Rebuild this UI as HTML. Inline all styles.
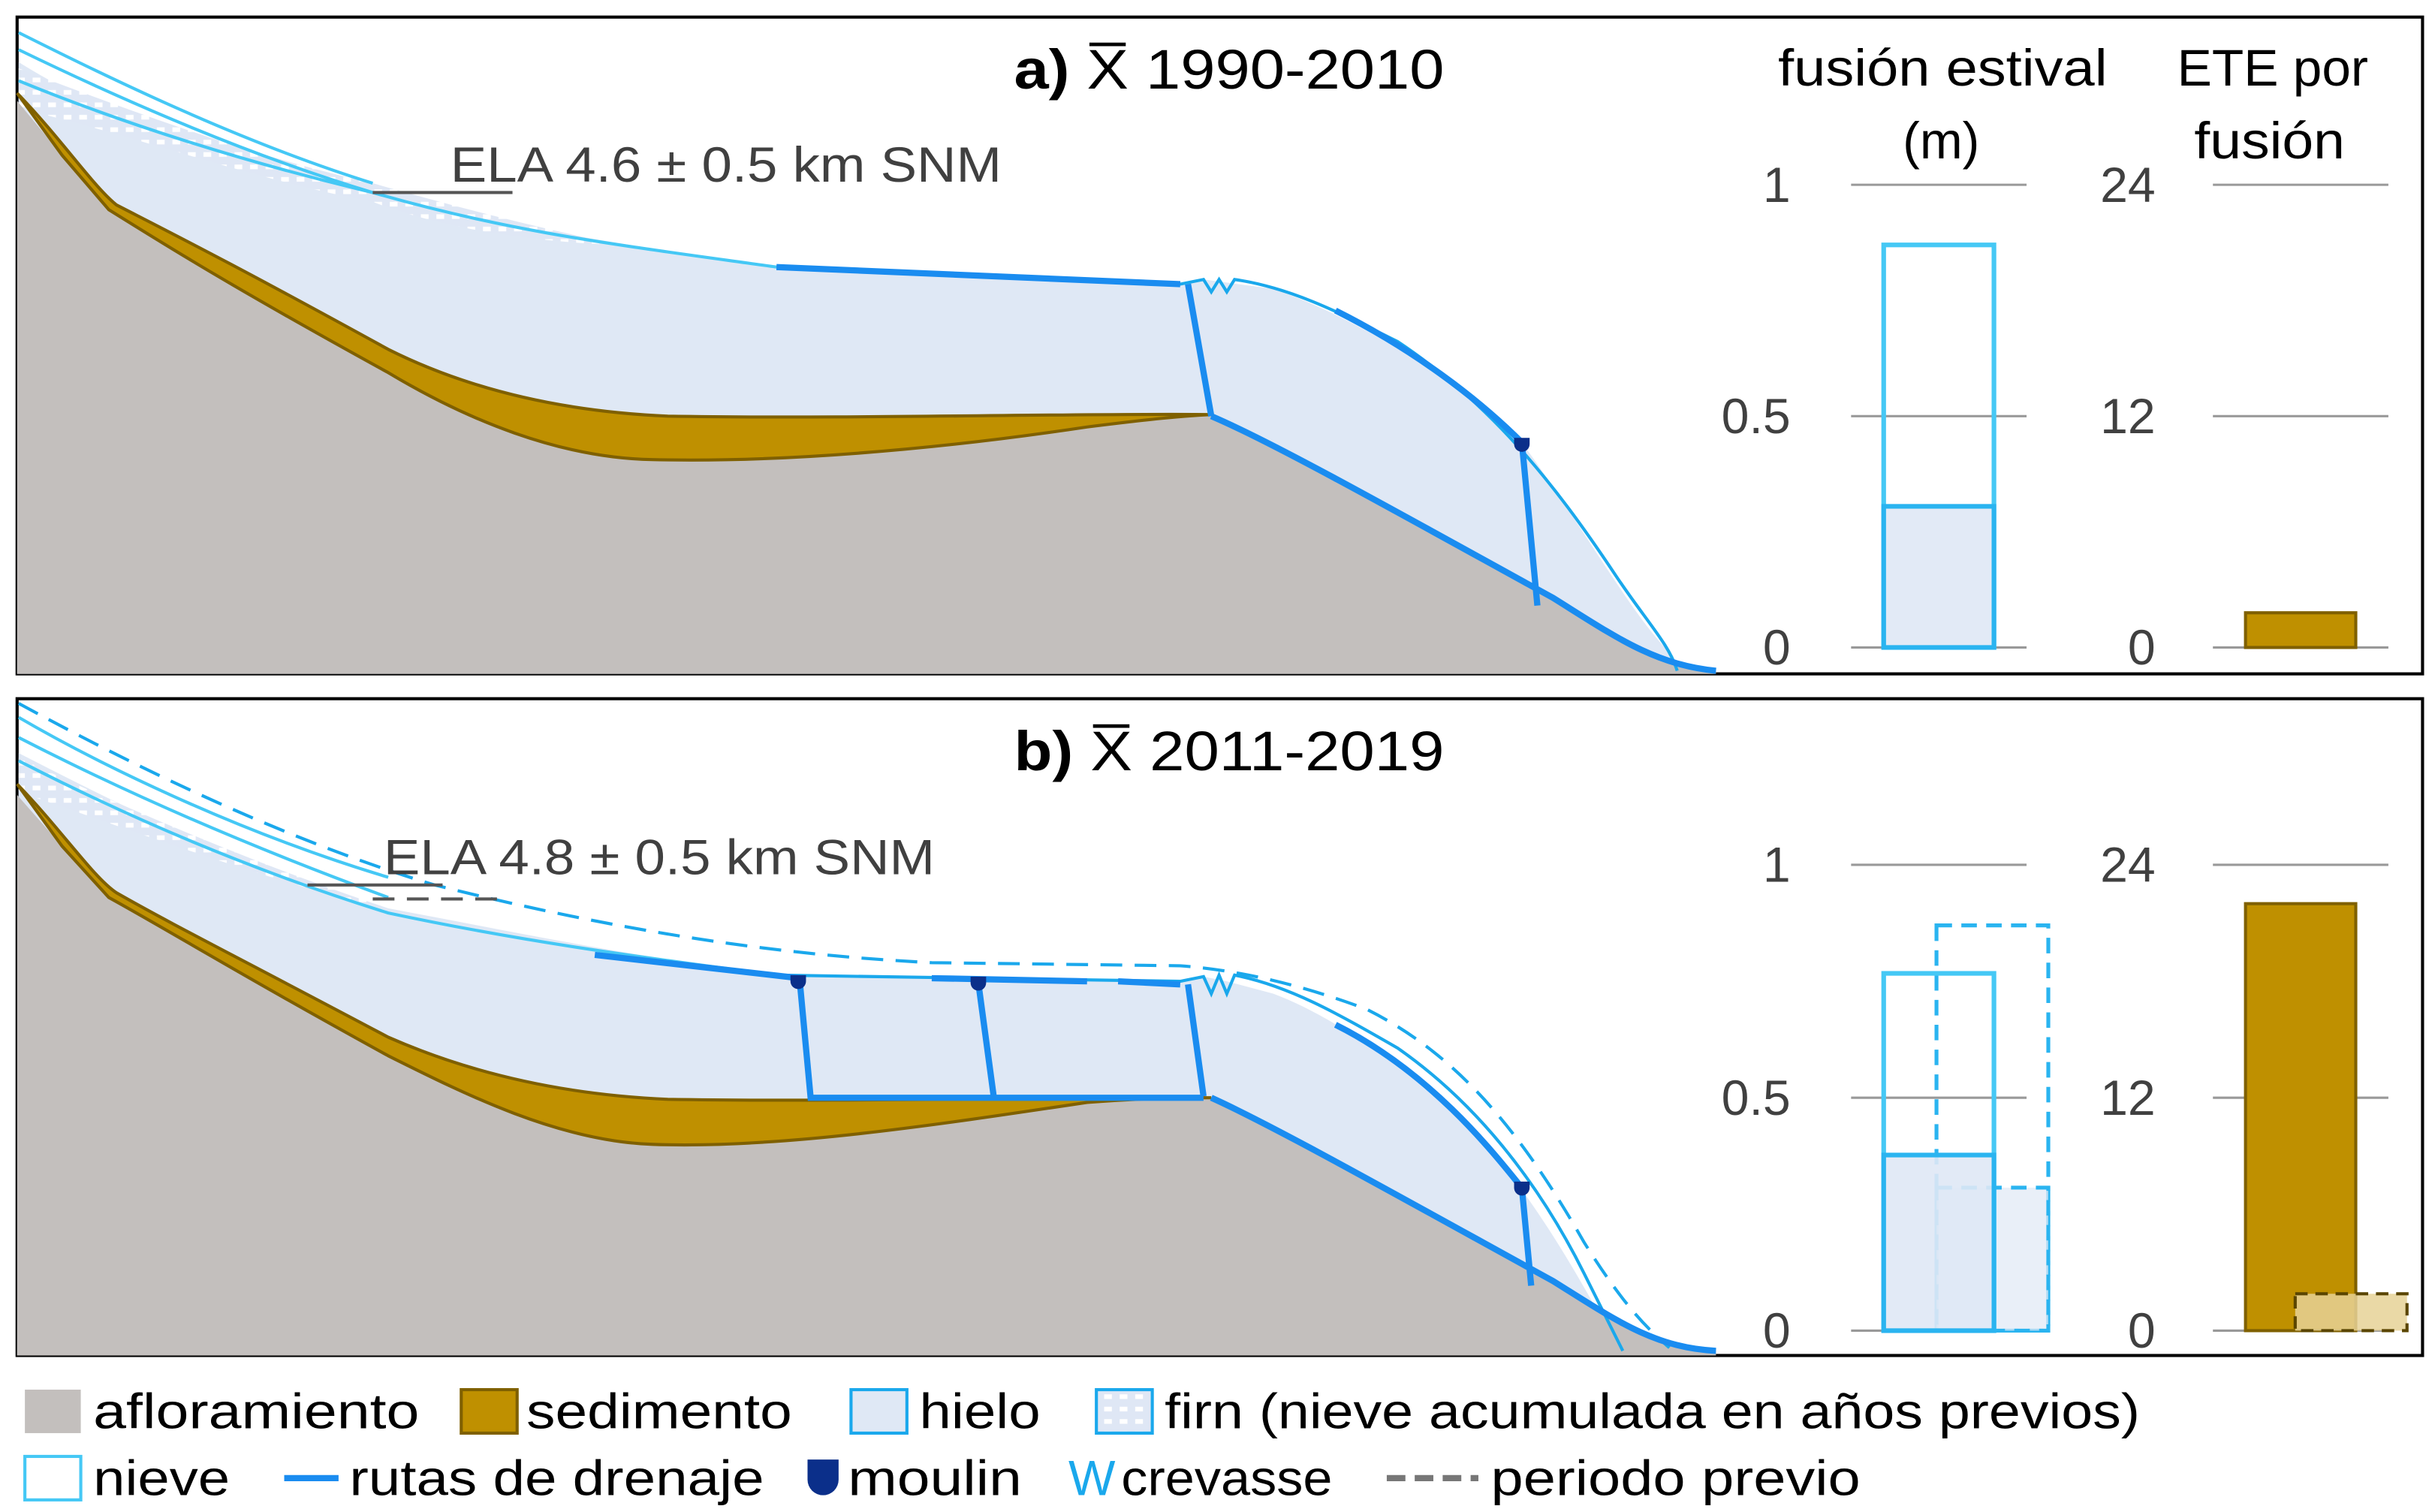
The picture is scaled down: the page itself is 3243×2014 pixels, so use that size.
<!DOCTYPE html>
<html><head><meta charset="utf-8"><style>
html,body{margin:0;padding:0;background:#fff;}
svg{display:block;}
text{font-family:"Liberation Sans",sans-serif;}
</style></head><body>
<svg id="fig" width="3243" height="2014" viewBox="0 0 1568 973.8" xmlns="http://www.w3.org/2000/svg">
<defs>
<pattern id="firn" width="10" height="8" patternUnits="userSpaceOnUse">
<rect width="10" height="8" fill="#dfe7f5"/><rect x="1" y="2" width="5" height="3" fill="#fff"/>
</pattern>
</defs>

<!-- Panel a -->
<g>
<rect x="11" y="11" width="1549" height="423" fill="#fff" stroke="#000" stroke-width="2"/>
<path d="M12,40 C60,70 150,110 250,130 C330,145 400,158 500,172 L760,183 L775,180 L790,182 L820,186 C860,200 920,230 980,285 C1020,340 1050,395 1075,420 L1080,432 L1105,434 L11,434 Z" fill="#dfe8f5"/>
<path d="M12,44 C80,70 160,100 240,118 C300,135 340,145 400,158 C330,155 280,145 240,130 C160,115 80,85 12,70 Z" fill="url(#firn)"/>
<path d="M11,65 L40,100 L70,135 C110,160 150,185 250,240 C300,270 360,295 420,296 C500,298 600,290 700,275 C740,270 770,268 780,268 C820,285 900,330 1000,385 C1040,410 1065,428 1105,432 L1105,434 L11,434 Z" fill="#c3bfbd"/>
<path d="M11,60 C40,90 60,120 75,132 C110,150 150,170 250,225 C300,250 360,265 430,268 C550,270 700,266 780,267 C760,268 740,270 700,275 C600,290 500,298 420,296 C360,295 300,270 250,240 C150,185 110,160 70,135 L40,100 Z" fill="#bf9000" stroke="#7f6000" stroke-width="2"/>
<path d="M12,21 C60,45 150,90 240,118 M12,32 C80,65 160,100 240,124 M12,52 C80,80 160,105 240,124 C330,150 400,158 500,172" fill="none" stroke="#45c8f5" stroke-width="2"/>
<path d="M500,172 L760,183 L775,180 L780,188 L785,180 L790,188 L795,180 C830,185 860,200 900,220 C960,260 1000,310 1040,370 C1060,400 1075,415 1080,432" fill="none" stroke="#1aa8ec" stroke-width="2"/>
<path d="M500,172 L760,183 M765,183 L780,268 M780,268 C820,285 900,330 1000,385 C1040,410 1065,428 1105,432 M860,200 C920,230 960,265 980,285 L990,390" fill="none" stroke="#1a8cf0" stroke-width="4"/>
<path d="M975,282 L985,282 L985,286 A5,5 0 0 1 975,286 Z" fill="#0b2f8a"/>
<line x1="240" y1="124" x2="330" y2="124" stroke="#555" stroke-width="2"/>
<text x="290" y="117" font-size="32" fill="#404040" textLength="355" lengthAdjust="spacingAndGlyphs">ELA 4.6 ± 0.5 km SNM</text>
<text x="653" y="57" font-size="36" fill="#000" textLength="277" lengthAdjust="spacingAndGlyphs"><tspan font-weight="bold">a)</tspan> X̅ 1990-2010</text>
</g>

<!-- Panel b -->
<g>
<rect x="11" y="450" width="1549" height="423" fill="#fff" stroke="#000" stroke-width="2"/>
<path d="M12,485 C80,520 160,560 250,585 C330,600 400,615 500,628 L760,632 L775,629 L790,632 L820,640 C860,655 910,690 960,740 C1000,790 1020,830 1035,855 L1040,870 L1105,873 L11,873 Z" fill="#dfe8f5"/>
<path d="M12,488 C80,520 160,555 250,585 C180,570 100,540 12,510 Z" fill="url(#firn)"/>
<path d="M11,512 L40,545 L70,578 C110,600 150,625 250,680 C300,705 360,735 420,737 C500,740 600,725 700,710 C740,707 770,706 780,707 C820,725 900,770 1000,825 C1040,850 1065,868 1105,870 L1105,873 L11,873 Z" fill="#c3bfbd"/>
<path d="M11,505 C40,535 60,565 75,575 C110,595 150,615 250,668 C300,690 360,705 430,708 C550,710 700,706 780,707 C760,707 740,707 700,710 C600,725 500,740 420,737 C360,735 300,705 250,680 C150,625 110,600 70,578 L40,545 Z" fill="#bf9000" stroke="#7f6000" stroke-width="2"/>
<path d="M12,462 C60,490 150,535 250,565 M12,475 C80,510 160,545 250,578 M12,490 C80,525 160,560 250,588 C330,605 400,615 500,628" fill="none" stroke="#45c8f5" stroke-width="2"/>
<path d="M12,453 C80,490 180,540 280,570 C400,600 500,615 600,620 L760,622 C800,625 840,635 880,650 C940,680 980,730 1020,800 C1045,840 1060,855 1075,868" fill="none" stroke="#1aa8ec" stroke-width="2" stroke-dasharray="14,8"/>
<path d="M500,628 L760,632 L775,629 L780,640 L785,628 L790,640 L795,628 C830,635 860,652 900,675 C950,710 990,760 1020,820 C1030,840 1040,860 1045,870" fill="none" stroke="#1aa8ec" stroke-width="2"/>
<path d="M383,615 L515,630 M600,630 L700,632 M720,632 L760,634 M765,634 L775,706 M515,632 L522,707 L775,707 M630,633 L640,707 M780,707 C820,725 900,770 1000,825 C1040,850 1065,868 1105,870 M860,660 C920,690 960,740 980,765 L986,828" fill="none" stroke="#1a8cf0" stroke-width="4"/>
<path d="M509,628 L519,628 L519,632 A5,5 0 0 1 509,632 Z M625,629 L635,629 L635,633 A5,5 0 0 1 625,633 Z M975,761 L985,761 L985,765 A5,5 0 0 1 975,765 Z" fill="#0b2f8a"/>
<line x1="198" y1="570" x2="285" y2="570" stroke="#555" stroke-width="2"/>
<line x1="240" y1="579" x2="325" y2="579" stroke="#555" stroke-width="2" stroke-dasharray="14,8"/>
<text x="247" y="563" font-size="32" fill="#404040" textLength="355" lengthAdjust="spacingAndGlyphs">ELA 4.8 ± 0.5 km SNM</text>
<text x="653" y="496" font-size="36" fill="#000" textLength="277" lengthAdjust="spacingAndGlyphs"><tspan font-weight="bold">b)</tspan> X̅ 2011-2019</text>
</g>

<text x="1145" y="55" font-size="33" fill="#000" textLength="212" lengthAdjust="spacingAndGlyphs">fusión estival</text>
<text x="1250" y="102" font-size="33" text-anchor="middle" fill="#000">(m)</text>
<text x="1402" y="55" font-size="33" fill="#000" textLength="123" lengthAdjust="spacingAndGlyphs">ETE por</text>
<text x="1413" y="102" font-size="33" fill="#000" textLength="97" lengthAdjust="spacingAndGlyphs">fusión</text>

<g id="bars"></g>

<!-- Legend -->
<g font-size="32">
<g><rect x="16" y="895" width="36" height="28" fill="#c3bfbd"/><text x="60" y="920" textLength="210" lengthAdjust="spacingAndGlyphs">afloramiento</text></g>
<g><rect x="297" y="895" width="36" height="28" fill="#bf9000" stroke="#7f6000" stroke-width="2"/><text x="339" y="920" textLength="171" lengthAdjust="spacingAndGlyphs">sedimento</text></g>
<g><rect x="548" y="895" width="36" height="28" fill="#dfe8f5" stroke="#1aa8ec" stroke-width="2"/><text x="592" y="920" textLength="78" lengthAdjust="spacingAndGlyphs">hielo</text></g>
<g><rect x="706" y="895" width="36" height="28" fill="url(#firn)" stroke="#1aa8ec" stroke-width="2"/><text x="750" y="920" textLength="628" lengthAdjust="spacingAndGlyphs">firn (nieve acumulada en años previos)</text></g>
<g><rect x="16" y="938" width="36" height="28" fill="#fff" stroke="#45c8f5" stroke-width="2"/><text x="60" y="963" textLength="88" lengthAdjust="spacingAndGlyphs">nieve</text></g>
<g><line x1="183" y1="952" x2="218" y2="952" stroke="#1a8cf0" stroke-width="4"/><text x="225" y="963" textLength="267" lengthAdjust="spacingAndGlyphs">rutas de drenaje</text></g>
<g><path d="M520,940 L540,940 L540,953 A10,10 0 0 1 520,953 Z" fill="#0b2f8a"/><text x="546" y="963" textLength="112" lengthAdjust="spacingAndGlyphs">moulin</text></g>
<g><text x="688" y="963" fill="#1aa8ec">W</text><text x="722" y="963" textLength="136" lengthAdjust="spacingAndGlyphs">crevasse</text></g>
<g><line x1="893" y1="952" x2="952" y2="952" stroke="#777" stroke-width="4" stroke-dasharray="12,6"/><text x="960" y="963" textLength="238" lengthAdjust="spacingAndGlyphs">periodo previo</text></g>
</g>
</svg>
<script>
const meltTicks = ["0","0.5","1"];
const eteTicks = ["0","12","24"];
const panelLabels = ["a","b"];
const snowMelt = [0.87, 0.767];
const iceMelt = [0.305, 0.377];
const prevSnowMelt = 0.87;
const prevIceMelt = 0.307;
const eteValues = [1.8, 22];
const prevEte = 1.9;

const NS = "http://www.w3.org/2000/svg";
const g = document.getElementById("bars");
const panels = [{y0:417, y1:119}, {y0:857, y1:557}];
function mk(tag, attrs){const e=document.createElementNS(NS,tag);for(const k in attrs)e.setAttribute(k,attrs[k]);g.appendChild(e);return e;}
function yMelt(p,v){return p.y0+(p.y1-p.y0)*v;}
function yEte(p,v){return p.y0+(p.y1-p.y0)*v/24;}
panels.forEach((p,i)=>{
  meltTicks.forEach(t=>{
    const y=yMelt(p,parseFloat(t));
    const l=mk("line",{x1:1192,x2:1305,y1:y,y2:y,stroke:"#999","stroke-width":1.5});
    
    
    const tx=mk("text",{x:1153,y:y+11,"font-size":32,"text-anchor":"end",fill:"#404040"});
    tx.textContent=t;
    
    
  });
  eteTicks.forEach(t=>{
    const y=yEte(p,parseFloat(t));
    const l=mk("line",{x1:1425,x2:1538,y1:y,y2:y,stroke:"#999","stroke-width":1.5});
    
    
    const tx=mk("text",{x:1388,y:y+11,"font-size":32,"text-anchor":"end",fill:"#404040"});
    tx.textContent=t;
    
    
  });
  if(i===1){
    const ps=mk("rect",{x:1247,y:yMelt(p,prevSnowMelt),width:72,height:p.y0-yMelt(p,prevSnowMelt),fill:"none",stroke:"#2ab4f0","stroke-width":2.5,"stroke-dasharray":"10,6"});
    
    
    const pi=mk("rect",{x:1247,y:yMelt(p,prevIceMelt),width:72,height:p.y0-yMelt(p,prevIceMelt),fill:"rgba(223,232,245,0.7)",stroke:"#2ab4f0","stroke-width":2.5,"stroke-dasharray":"10,6"});
    
    
  }
  const s=mk("rect",{x:1213,y:yMelt(p,snowMelt[i]),width:71,height:p.y0-yMelt(p,snowMelt[i]),fill:"none",stroke:"#45c8f5","stroke-width":3});
  
  
  const ic=mk("rect",{x:1213,y:yMelt(p,iceMelt[i]),width:71,height:p.y0-yMelt(p,iceMelt[i]),fill:"rgba(223,232,245,0.9)",stroke:"#2ab4f0","stroke-width":3});
  
  
  const e=mk("rect",{x:1446,y:yEte(p,eteValues[i]),width:71,height:p.y0-yEte(p,eteValues[i]),fill:"#bf9000",stroke:"#7f6000","stroke-width":2});
  
  
  if(i===1){
    const pe=mk("rect",{x:1478,y:yEte(p,prevEte),width:72,height:p.y0-yEte(p,prevEte),fill:"rgba(230,210,150,0.85)",stroke:"#5a4500","stroke-width":2,"stroke-dasharray":"8,5"});
    
    
  }
});
</script>
</body></html>
